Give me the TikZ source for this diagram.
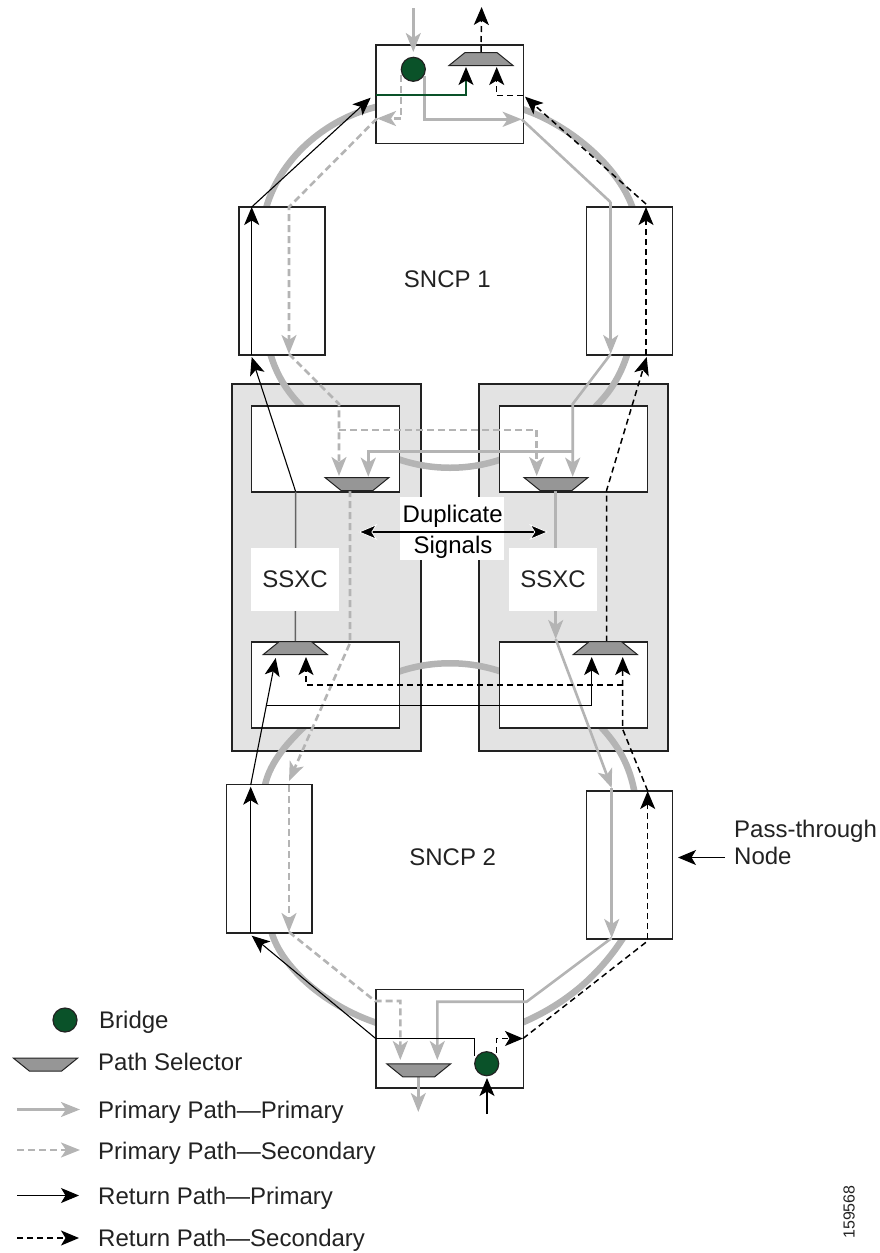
\documentclass[tikz,border=0pt]{standalone}
\usepackage{xcolor}
\usepackage{fontspec}
\setmainfont{Liberation Sans}
\usetikzlibrary{arrows.meta,shapes.geometric}
\definecolor{ringgray}{HTML}{B4B4B4}
\definecolor{panelgray}{HTML}{E3E3E3}
\definecolor{selgray}{HTML}{969696}
\definecolor{bridgegreen}{HTML}{0A5229}
\definecolor{inkdark}{HTML}{222222}
\begin{document}
\begin{tikzpicture}[
  x=1pt, y=-1pt,
  box/.style={draw=inkdark, line width=1.6pt, fill=white, inner sep=0pt},
  ringbox/.style={box, minimum width=85.7pt, minimum height=148.3pt},
  endbox/.style={box, minimum width=147.6pt, minimum height=98.3pt},
  card/.style={box, minimum width=148pt, minimum height=86pt},
  panel/.style={box, fill=panelgray, minimum width=189pt, minimum height=367pt},
  bridge/.style={circle, draw=inkdark, line width=1.2pt, fill=bridgegreen, minimum size=24pt, inner sep=0pt},
  selup/.style={trapezium, trapezium angle=39, trapezium stretches body=true, draw=inkdark, line width=1pt, fill=selgray, minimum width=64pt, inner xsep=1pt, inner ysep=6.5pt},
  seldown/.style={selup, shape border rotate=180},
  ring/.style={ringgray, line width=6.5pt},
  label/.style={text=inkdark, font=\fontsize{24}{27}\selectfont, align=left, inner sep=0pt},
  whitebox/.style={label, fill=white, align=center},
  graytip/.tip={Stealth[length=19pt, width=15pt, inset=5pt, color=ringgray]},
  blacktip/.tip={Stealth[length=18pt, width=15pt, inset=4.5pt, color=black]},
  ppri/.style={ringgray, line width=2.6pt, -{graytip}},
  psec/.style={ppri, dash pattern=on 7pt off 4pt},
  rpri/.style={black, line width=1.1pt, -{blacktip}},
  rsec/.style={rpri, line width=1.5pt, dash pattern=on 6pt off 4pt},
  plain/.style={-},
]
  \useasboundingbox (0,0) rectangle (880,1253);

  \node[panel] (panell) at (326.3,567.7) {};
  \node[panel] (panelr) at (573.5,567.7) {};

  \draw[ring] (380,106) .. controls (325,118) and (278,160) .. (265,212);
  \draw[ring] (268,345) .. controls (275,375) and (288,393) .. (305,410);
  \draw[ring] (395,458) .. controls (430,471) and (470,471) .. (505,458);
  \draw[ring] (592,410) .. controls (610,393) and (622,375) .. (630,345);
  \draw[ring] (519,108) .. controls (565,122) and (620,165) .. (634,212);
  \draw[ring] (395,673) .. controls (430,660) and (470,660) .. (505,673);
  \draw[ring] (305,726) .. controls (285,745) and (268,765) .. (264,790);
  \draw[ring] (600,726) .. controls (618,745) and (630,765) .. (635,795);
  \draw[ring] (270,925) .. controls (275,960) and (320,1005) .. (380,1024);
  \draw[ring] (625,935) .. controls (600,975) and (565,1005) .. (519,1024);

  \node[endbox] (top) at (449.5,94.2) {};
  \node[endbox] (bot) at (449.5,1038.8) {};
  \node[ringbox] (lefta) at (282,281) {};
  \node[ringbox] (righta) at (629.5,281) {};
  \node[ringbox] (leftb) at (269.4,858.8) {};
  \node[ringbox] (rightb) at (629.5,865) {};
  \node[card] (cardlt) at (325.3,448.7) {};
  \node[card] (cardrt) at (573.5,448.7) {};
  \node[card] (cardlb) at (325.3,684.7) {};
  \node[card] (cardrb) at (573.5,684.7) {};

  \node[label] (sncpa) at (447.3,279.3) {SNCP 1};
  \node[label] (sncpb) at (452.7,857.3) {SNCP 2};

  \coordinate (inx) at (413.3,8);
  \coordinate (iny) at (413.3,52);
  \coordinate (a1) at (424.3,76);
  \coordinate (a2) at (424.3,119.3);
  \coordinate (a3) at (521.7,119.3);
  \coordinate (a4) at (610.7,202.3);
  \coordinate (a5) at (610.7,354);
  \coordinate (a6) at (572.7,404);
  \coordinate (a7) at (572.7,476.7);
  \coordinate (a8) at (572.7,451.7);
  \coordinate (a9) at (368.3,451.7);
  \coordinate (a10) at (368.3,476.7);
  \coordinate (a11) at (555.7,490);
  \coordinate (a12) at (555.7,639);
  \coordinate (a13) at (611.7,788);
  \coordinate (a14) at (611.7,938);
  \coordinate (a15) at (526.7,1001.7);
  \coordinate (a16) at (437.3,1001.7);
  \coordinate (a17) at (437.3,1060);
  \coordinate (a18) at (418.3,1112);
  \draw[ppri] (inx) -- (iny);
  \draw[ppri] (a1) -- (a2) -- (a3);
  \draw[ppri, plain] (a3) -- (a4);
  \draw[ppri] (a4) -- (a5);
  \draw[ppri] (a5) -- (a6) -- (a7);
  \draw[ppri] (a8) -- (a9) -- (a10);
  \draw[ppri] (a11) -- (a12);
  \draw[ppri] (a12) -- (a13);
  \draw[ppri] (a13) -- (a14);
  \draw[ppri] (a14) -- (a15) -- (a16) -- (a17);
  \draw[ppri] (a18 |- 0,1076) -- (a18);

  \coordinate (b1) at (401,75);
  \coordinate (b2) at (401,118.5);
  \coordinate (b3) at (377,118.5);
  \coordinate (b4) at (289,207);
  \coordinate (b5) at (289,354);
  \coordinate (b6) at (339,404);
  \coordinate (b7) at (339,476);
  \coordinate (b8) at (339,430);
  \coordinate (b9) at (536.7,430);
  \coordinate (b10) at (536.7,476);
  \coordinate (b11) at (350,490);
  \coordinate (b12) at (350,643);
  \coordinate (b13) at (289,781);
  \coordinate (b14) at (289,785);
  \coordinate (b15) at (289,932);
  \coordinate (b16) at (375,1001);
  \coordinate (b17) at (400.3,1001);
  \coordinate (b18) at (400.3,1060);
  \draw[psec] (b1) -- (b2) -- (b3);
  \draw[psec] (b3) -- (b4) -- (b5);
  \draw[psec] (b5) -- (b6) -- (b7);
  \draw[psec] (b8) -- (b9) -- (b10);
  \draw[psec] (b11) -- (b12) -- (b13);
  \draw[psec] (b14) -- (b15);
  \draw[psec] (b15) -- (b16) -- (b17) -- (b18);

  \coordinate (c1) at (295.7,491.7);
  \coordinate (c2) at (251.7,357);
  \coordinate (c3) at (251.7,355);
  \coordinate (c4) at (251.7,207);
  \coordinate (c5) at (370.7,97.7);
  \coordinate (c6) at (250.7,785);
  \coordinate (c7) at (275.7,658);
  \coordinate (c8) at (250.7,932.7);
  \coordinate (c9) at (250.7,786.7);
  \coordinate (c10) at (375.7,1038.5);
  \coordinate (c11) at (251.7,935.7);
  \coordinate (c12) at (474.7,1038.5);
  \coordinate (c13) at (474.7,1056);
  \coordinate (c14) at (266.7,705.3);
  \coordinate (c15) at (591.7,705.3);
  \coordinate (c16) at (591.7,657);
  \coordinate (c17) at (487,1114);
  \coordinate (c18) at (487,1078);
  \draw[rpri] (c1) -- (c2);
  \draw[rpri] (c3) -- (c4);
  \draw[rpri] (c4) -- (c5);
  \draw[rpri] (c6) -- (c7);
  \draw[rpri] (c8) -- (c9);
  \draw[rpri] (c10) -- (c11);
  \draw[rpri, plain] (c10) -- (c12) -- (c13);
  \draw[rpri] (c14) -- (c15) -- (c16);
  \draw[rpri] (c17) -- (c18);

  \coordinate (g1) at (375.7,95);
  \coordinate (g2) at (466,95);
  \coordinate (g3) at (466,67);
  \draw[rpri, bridgegreen, line width=1.3pt, -{Stealth[length=18pt, width=15pt, inset=4.5pt, color=black]}] (g1) -- (g2) -- (g3);

  \coordinate (d1) at (496.7,1053);
  \coordinate (d2) at (496.7,1038.5);
  \coordinate (d3) at (523,1038.5);
  \coordinate (d4) at (646.7,941.7);
  \coordinate (d5) at (647.7,939.3);
  \coordinate (d6) at (647.7,791);
  \coordinate (d7) at (622.7,729.3);
  \coordinate (d8) at (622.7,657);
  \coordinate (d9) at (622.7,685);
  \coordinate (d10) at (306,685);
  \coordinate (d11) at (306,657);
  \coordinate (e1) at (606.7,641.7);
  \coordinate (e2) at (606.7,490);
  \coordinate (e3) at (646.7,357);
  \coordinate (e4) at (646,355);
  \coordinate (e5) at (646,207);
  \coordinate (e6) at (646,204);
  \coordinate (e7) at (525,96.7);
  \coordinate (e8) at (523,95.7);
  \coordinate (e9) at (496.7,95.7);
  \coordinate (e10) at (496.7,67);
  \coordinate (e11) at (481.6,7);
  \draw[rsec] (d1) -- (d2) -- (d3);
  \draw[rsec, plain] (d3) -- (d4);
  \draw[rsec] (d5) -- (d6);
  \draw[rsec] (d6) -- (d7) -- (d8);
  \draw[rsec] (d9) -- (d10) -- (d11);
  \draw[rsec] (e1) -- (e2) -- (e3);
  \draw[rsec] (e4) -- (e5);
  \draw[rsec] (e6) -- (e7);
  \draw[rsec] (e8) -- (e9) -- (e10);

  \node[selup] (sela) at (481,59) {};
  \node[seldown] (selb) at (357,484) {};
  \node[seldown] (selc) at (556,484) {};
  \node[selup] (seld) at (295.3,648) {};
  \node[selup] (sele) at (605.3,648) {};
  \node[seldown] (self) at (418.7,1070.3) {};
  \node[bridge] (bra) at (413.3,69.3) {};
  \node[bridge] (brb) at (486.7,1063.7) {};

  \draw[rsec] (sela.north) -- (e11);
  \draw[inkdark!70, line width=1.5pt] (c1) -- (seld.north);

  \node[whitebox, minimum width=88pt, minimum height=63pt] (ssxcl) at (295,579.5) {SSXC};
  \node[whitebox, minimum width=88pt, minimum height=63pt] (ssxcr) at (553,579.5) {SSXC};
  \node[whitebox, minimum width=104pt, minimum height=63pt] (dup) at (452,528.5) {};
  \coordinate (dupl) at (358.3,532);
  \coordinate (dupr) at (548.3,532);
  \draw[black, line width=1.2pt, {Stealth[length=19pt, width=16pt, inset=5pt, color=white, fill=black, line width=0.8pt]}-{Stealth[length=19pt, width=16pt, inset=5pt, color=white, fill=black, line width=0.8pt]}] (dupl) -- (dupr);
  \node[label, text=black] (dupa) at (452.7,516) {Duplicate};
  \node[label, text=black] (dupb) at (453,547) {Signals};

  \node[label, anchor=west] (pass) at (734,842) {Pass-through\\Node};
  \coordinate (passs) at (725,857.5);
  \coordinate (passe) at (678,857.5);
  \draw[rpri] (passs) -- (passe);

  \node[bridge] (brl) at (65,1020) {};
  \node[seldown] (sell) at (45.5,1064.7) {};
  \node[label, anchor=west] (lega) at (99,1022) {Bridge};
  \node[label, anchor=west] (legb) at (98,1062) {Path Selector};
  \node[label, anchor=west] (legc) at (98,1112) {Primary Path—Primary};
  \node[label, anchor=west] (legd) at (98,1153.5) {Primary Path—Secondary};
  \node[label, anchor=west] (lege) at (98,1198) {Return Path—Primary};
  \node[label, anchor=west] (legf) at (98,1240) {Return Path—Secondary};
  \coordinate (lc1) at (17,1109.5);
  \coordinate (lc2) at (80,1109.5);
  \coordinate (ld1) at (17,1150);
  \coordinate (ld2) at (80,1150);
  \coordinate (le1) at (17,1195.5);
  \coordinate (le2) at (79,1195.5);
  \coordinate (lf1) at (17,1238);
  \coordinate (lf2) at (79,1238);
  \draw[ppri] (lc1) -- (lc2);
  \draw[psec] (ld1) -- (ld2);
  \draw[rpri] (le1) -- (le2);
  \draw[rsec] (lf1) -- (lf2);

  \node[text=inkdark, rotate=90, font=\fontsize{16}{18}\selectfont, inner sep=0pt] (figno) at (849,1212) {159568};
\end{tikzpicture}
\end{document}
